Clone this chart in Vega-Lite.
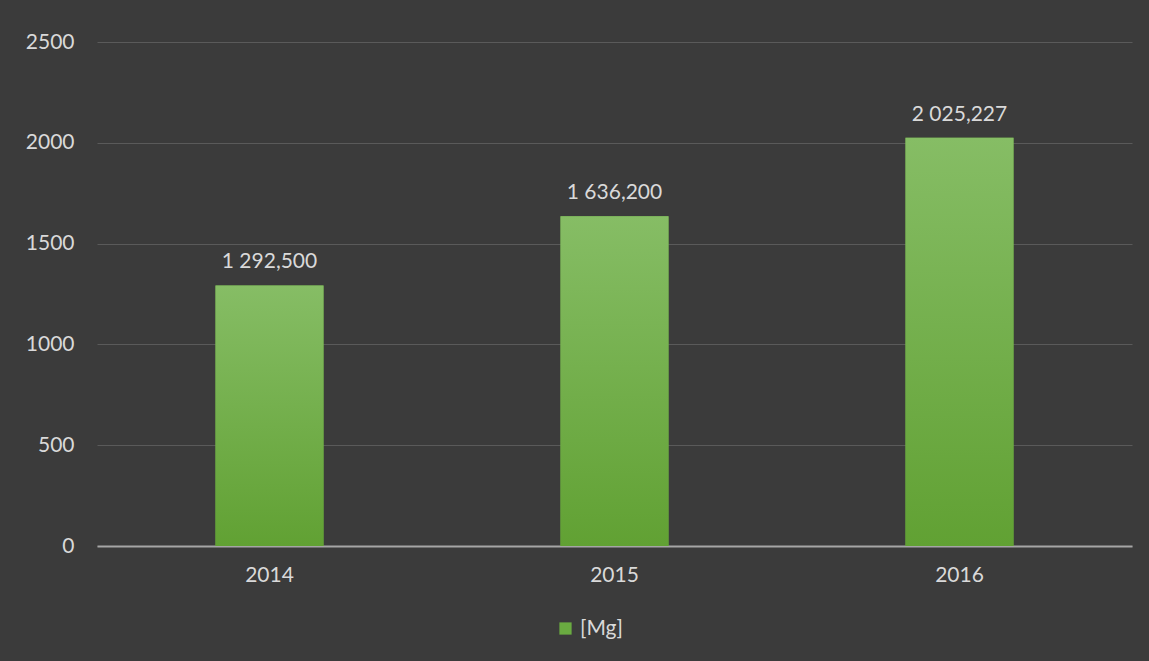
{
  "$schema": "https://vega.github.io/schema/vega-lite/v6.json",
  "autosize": "none",
  "width": 1035,
  "height": 504,
  "padding": {"left": 97, "top": 42, "right": 17, "bottom": 115},
  "background": "#3b3b3b",
  "config": {
    "view": {"stroke": null},
    "font": "Lato",
    "locale": {"number": {"decimal": ",", "thousands": " ", "grouping": [3], "currency": ["", ""]}}
  },
  "data": {"values": [
    {"year": "2014", "value": 1292.5, "series": "[Mg]"},
    {"year": "2015", "value": 1636.2, "series": "[Mg]"},
    {"year": "2016", "value": 2025.227, "series": "[Mg]"}
  ]},
  "encoding": {
    "x": {"field": "year", "type": "nominal", "title": null,
      "scale": {"paddingInner": 0, "paddingOuter": 0},
      "axis": {"labelAngle": 0, "labelColor": "#d9d9d9", "labelFontSize": 21, "labelPadding": 18, "ticks": false, "domainColor": "#a6a6a6", "domainWidth": 2, "grid": false}},
    "y": {"field": "value", "type": "quantitative", "title": null,
      "scale": {"domain": [0, 2500]},
      "axis": {"values": [0, 500, 1000, 1500, 2000, 2500], "format": "d", "labelColor": "#d9d9d9", "labelFontSize": 21, "labelPadding": 23, "ticks": false, "domain": false, "gridColor": "#5a5a5a", "gridWidth": 1}}
  },
  "layer": [
    {
      "mark": {"type": "bar", "width": 108},
      "encoding": {
        "color": {"field": "series", "type": "nominal", "scale": {"range": ["#6aab41"]},
          "legend": {"orient": "none", "legendX": 458, "legendY": 576, "direction": "horizontal", "title": null, "labelColor": "#d9d9d9", "labelFontSize": 21, "symbolType": "square", "symbolSize": 150, "symbolStrokeWidth": 0}}
      }
    },
    {
      "mark": {"type": "bar", "width": 108,
        "fill": {"gradient": "linear", "x1": 0, "y1": 0, "x2": 0, "y2": 1,
          "stops": [{"offset": 0, "color": "#86bd65"}, {"offset": 1, "color": "#61a133"}]}}
    },
    {
      "mark": {"type": "text", "baseline": "alphabetic", "dy": -17, "fontSize": 21, "color": "#d9d9d9"},
      "encoding": {"text": {"field": "value", "type": "quantitative", "format": ",.3f"}}
    }
  ]
}
